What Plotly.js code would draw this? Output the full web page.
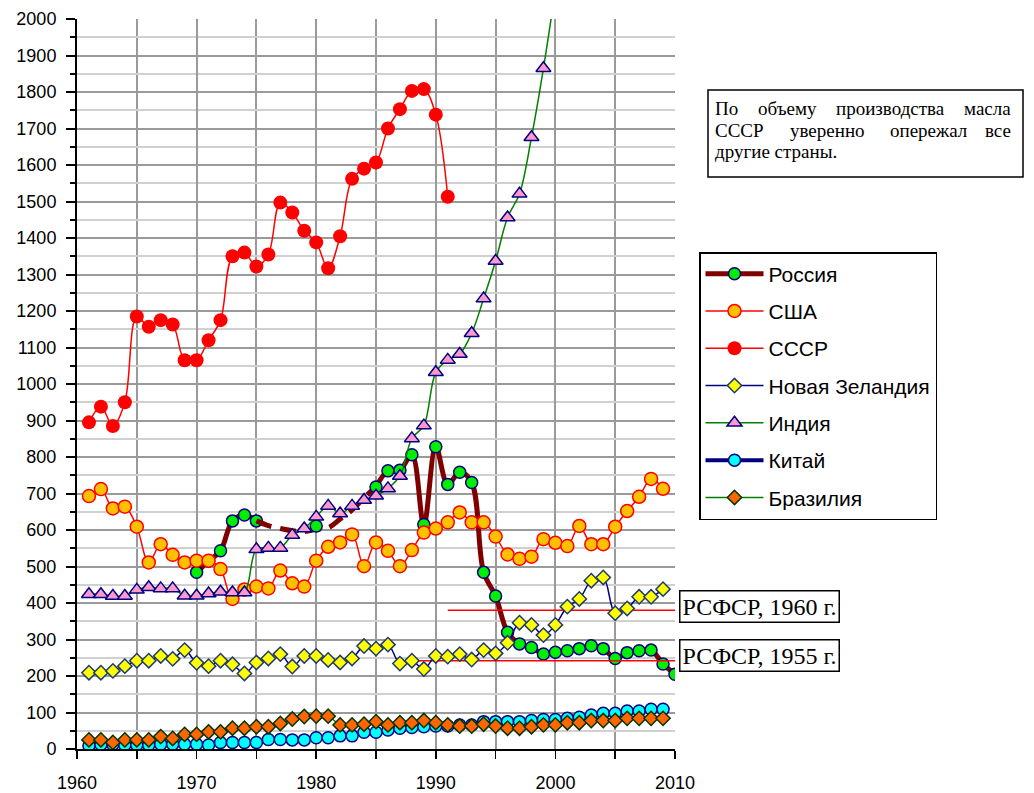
<!DOCTYPE html>
<html><head><meta charset="utf-8">
<script src="https://cdn.plot.ly/plotly-3.0.1.min.js"></script>
<style>html,body{margin:0;padding:0;background:#fff}#chart{width:1034px;height:793px}</style>
</head><body><div id="chart"></div>
<script>
// ---------- data ----------
const yearsUSSR = [1961,1962,1963,1964,1965,1966,1967,1968,1969,1970,1971,1972,1973,1974,1975,1976,1977,1978,1979,1980,1981,1982,1983,1984,1985,1986,1987,1988,1989,1990,1991];
const ussr = [895,938,885,950,1185,1157,1175,1163,1065,1065,1120,1175,1350,1360,1322,1355,1497,1470,1420,1388,1317,1405,1562,1590,1607,1700,1753,1803,1808,1738,1513];

const years61_09 = [1961,1962,1963,1964,1965,1966,1967,1968,1969,1970,1971,1972,1973,1974,1975,1976,1977,1978,1979,1980,1981,1982,1983,1984,1985,1986,1987,1988,1989,1990,1991,1992,1993,1994,1995,1996,1997,1998,1999,2000,2001,2002,2003,2004,2005,2006,2007,2008,2009];
const usa = [693,712,659,664,609,511,561,532,511,516,516,493,411,437,445,440,489,454,445,516,554,566,588,501,566,543,501,545,593,604,621,648,621,621,582,533,521,527,575,565,556,611,561,561,609,652,691,740,713];
const newZealand = [209,209,214,227,242,242,255,247,271,236,227,242,232,207,237,248,260,226,255,255,244,237,248,282,275,286,234,242,219,255,253,260,245,271,262,291,346,340,312,340,390,411,461,470,372,385,417,417,438];
const china = [9,12,12,11,11,11,13,13,13,13,11,18,18,18,18,26,26,25,25,31,31,36,36,46,46,52,57,59,61,63,63,66,66,75,75,75,75,78,81,81,84,87,93,98,98,104,104,109,109];
const brazil = [25,25,18,25,25,25,34,29,40,40,47,47,57,57,61,61,70,82,89,90,90,66,66,68,75,66,72,72,78,72,66,63,63,68,63,57,57,61,66,66,72,72,78,78,78,84,84,84,84];

const yearsIndia = [1961,1962,1963,1964,1965,1966,1967,1968,1969,1970,1971,1972,1973,1974,1975,1976,1977,1978,1979,1980,1981,1982,1983,1984,1985,1986,1987,1988,1989,1990,1991,1992,1993,1994,1995,1996,1997,1998,1999,2000];
const india = [424,424,419,419,436,443,440,440,420,420,426,431,429,429,547,551,551,586,604,636,666,645,666,682,694,714,748,851,886,1032,1066,1082,1139,1234,1337,1456,1521,1676,1865,2080];

const yearsRussiaA = [1970,1971,1972,1973,1974,1975];
const russiaA = [484,515,543,625,641,625];
const yearsRussiaDash = [1975,1976,1977,1978,1979,1980,1981,1982,1983,1984,1985];
const russiaDash = [625,612,604,598,596,602,606,630,655,688,718];
const yearsRussia1980 = [1980];
const russia1980 = [611];
const yearsRussiaB = [1985,1986,1987,1988,1989,1990,1991,1992,1993,1994,1995,1996,1997,1998,1999,2000,2001,2002,2003,2004,2005,2006,2007,2008,2009,2010];
const russiaB = [718,762,764,806,615,828,725,758,730,484,419,320,288,278,260,265,269,275,283,275,248,264,269,271,233,205];

const rsfsr1960Years = [1991,2010];
const rsfsr1960 = [380,380];
const rsfsr1955Years = [1988.3,2010];
const rsfsr1955 = [242,242];

const seriesNames = ['Россия','США','СССР','Новая Зеландия','Индия','Китай','Бразилия'];
const xTickVals = [1960,1970,1980,1990,2000,2010];
const yTickVals = [0,100,200,300,400,500,600,700,800,900,1000,1100,1200,1300,1400,1500,1600,1700,1800,1900,2000];
const noteLines = [
  ['По','объему','производства','масла'],
  ['СССР','уверенно','опережал','все'],
  ['другие страны.']
];
const rsfsrLabels = ['РСФСР, 1960 г.','РСФСР, 1955 г.'];

// ---------- layout helpers (pixel -> paper) ----------
const PL = 77, PR = 675, PB = 749, PT = 19;
const pw = PR - PL, ph = PB - PT;
const px = v => (v - PL) / pw;
const py = v => (PB - v) / ph;

const navy = '#000080';
const traces = [];
// Russia (drawn first, underneath)
traces.push({x: yearsRussiaA, y: russiaA, mode:'lines+markers', name: seriesNames[0], legendgroup:'g0', showlegend:false,
  line:{color:'#800000', width:5, shape:'spline'}, marker:{symbol:'circle', size:12, color:'#00ee00', line:{color:navy, width:1.5}}});
traces.push({x: yearsRussiaDash, y: russiaDash, mode:'lines', name: seriesNames[0], legendgroup:'g0', showlegend:false,
  line:{color:'#800000', width:5, shape:'spline', dash:'16px,9px'}});
traces.push({x: yearsRussia1980, y: russia1980, mode:'markers', name: seriesNames[0], legendgroup:'g0', showlegend:false,
  marker:{symbol:'circle', size:12, color:'#00ee00', line:{color:navy, width:1.5}}});
traces.push({x: yearsRussiaB, y: russiaB, mode:'lines+markers', name: seriesNames[0], legendgroup:'g0', legendrank:1,
  line:{color:'#800000', width:5, shape:'spline'}, marker:{symbol:'circle', size:12, color:'#00ee00', line:{color:navy, width:1.5}}});
// USSR
traces.push({x: yearsUSSR, y: ussr, mode:'lines+markers', name: seriesNames[2], legendgroup:'g2', legendrank:3,
  line:{color:'#ff0000', width:1.5, shape:'spline'}, marker:{symbol:'circle', size:14, color:'#ff0000', line:{color:'#ff0000', width:0}}});
// USA
traces.push({x: years61_09, y: usa, mode:'lines+markers', name: seriesNames[1], legendgroup:'g1', legendrank:2,
  line:{color:'#ff0000', width:1.5, shape:'spline'}, marker:{symbol:'circle', size:13, color:'#ffc000', line:{color:'#ff0000', width:1.5}}});
// RSFSR reference lines
traces.push({x: rsfsr1960Years, y: rsfsr1960, mode:'lines', showlegend:false, legendgroup:'r1', hoverinfo:'skip', line:{color:'#ff0000', width:1.5}});
traces.push({x: rsfsr1955Years, y: rsfsr1955, mode:'lines', showlegend:false, legendgroup:'r2', hoverinfo:'skip', line:{color:'#ff0000', width:1.5}});
// India
traces.push({x: yearsIndia, y: india, mode:'lines+markers', name: seriesNames[4], legendgroup:'g4', legendrank:5,
  line:{color:'#008000', width:1.5, shape:'spline'}, marker:{symbol:'triangle-up', size:13, color:'#ff99cc', line:{color:navy, width:1.5}}});
// New Zealand
traces.push({x: years61_09, y: newZealand, mode:'lines+markers', name: seriesNames[3], legendgroup:'g3', legendrank:4,
  line:{color:navy, width:1.5, shape:'spline'}, marker:{symbol:'diamond', size:11, color:'#ffff00', line:{color:'#1f3a70', width:1.5}}});
// China
traces.push({x: years61_09, y: china, mode:'lines+markers', name: seriesNames[5], legendgroup:'g5', legendrank:6,
  line:{color:navy, width:4, shape:'spline'}, marker:{symbol:'circle', size:12, color:'#00ffff', line:{color:navy, width:1.5}}});
// Brazil
traces.push({x: years61_09, y: brazil, mode:'lines+markers', name: seriesNames[6], legendgroup:'g6', legendrank:7,
  line:{color:'#008000', width:1.5, shape:'spline'}, marker:{symbol:'diamond', size:11, color:'#ff6600', line:{color:'#003300', width:1.5}}});

const annotations = [];
// note box words (justified lines)
const noteWordX = [[713,756,834,1013],[713,788,888,1013],[713]];
const noteLineY = [108,130,152];
noteLines.forEach((words, li) => {
  words.forEach((w, wi) => {
    const last = (wi === words.length - 1) && words.length > 1;
    annotations.push({xref:'paper', yref:'paper', x: px(noteWordX[li][wi]), y: py(noteLineY[li]),
      xanchor: last ? 'right' : 'left', yanchor:'middle', text: w, showarrow:false,
      font:{family:'Liberation Serif, Times New Roman, serif', size:19, color:'#000'}});
  });
});
// RSFSR labels
[606, 655].forEach((yy, i) => {
  annotations.push({xref:'paper', yref:'paper', x: px(679), y: py(yy), xanchor:'left', yanchor:'middle',
    text: rsfsrLabels[i], showarrow:false, bgcolor:'#fff', bordercolor:'#000', borderwidth:1.5, borderpad:2,
    font:{family:'Liberation Serif, Times New Roman, serif', size:24, color:'#000'}});
});

const layout = {
  width:1034, height:793,
  margin:{l:PL, r:1034-PR, t:PT, b:793-PB},
  paper_bgcolor:'#fff', plot_bgcolor:'#fff',
  showlegend:true,
  font:{family:'Liberation Sans, Arial, sans-serif', size:18, color:'#000'},
  xaxis:{range:[1960,2010], tickvals:xTickVals, ticks:'outside', ticklen:8, tickwidth:1.5, tickcolor:'#000',
    showline:true, linecolor:'#000', linewidth:2, showgrid:true, gridcolor:'#9a9a9a', gridwidth:2, zeroline:false,
    tickfont:{size:18}, ticklabelstandoff:8,
    minor:{dtick:5, tick0:1960, ticks:'outside', ticklen:8, tickwidth:1.5, tickcolor:'#000', showgrid:true, gridcolor:'#9a9a9a', gridwidth:2}},
  yaxis:{range:[0,2000], tickvals:yTickVals, ticks:'outside', ticklen:9, tickwidth:2, tickcolor:'#000',
    showline:true, linecolor:'#000', linewidth:2, showgrid:true, gridcolor:'#9a9a9a', gridwidth:2, zeroline:false,
    tickfont:{size:18}, ticklabelstandoff:6,
    minor:{dtick:50, tick0:0, ticks:'outside', ticklen:5, tickwidth:2, tickcolor:'#000', showgrid:true, gridcolor:'#d0d0d0', gridwidth:2}},
  legend:{x: px(699), y: py(252), xanchor:'left', yanchor:'top', bgcolor:'#fff', bordercolor:'#000', borderwidth:1.5,
    font:{size:21, family:'Liberation Sans, Arial, sans-serif'}, tracegroupgap:7, traceorder:'grouped', itemwidth:58, itemsizing:'trace'},
  shapes:[{type:'rect', xref:'paper', yref:'paper', x0: px(708), x1: px(1023), y0: py(177), y1: py(90),
    line:{color:'#000', width:1.5}, fillcolor:'#fff', layer:'above'}],
  annotations: annotations
};
Plotly.newPlot('chart', traces, layout, {displayModeBar:false, staticPlot:true});
</script></body></html>
